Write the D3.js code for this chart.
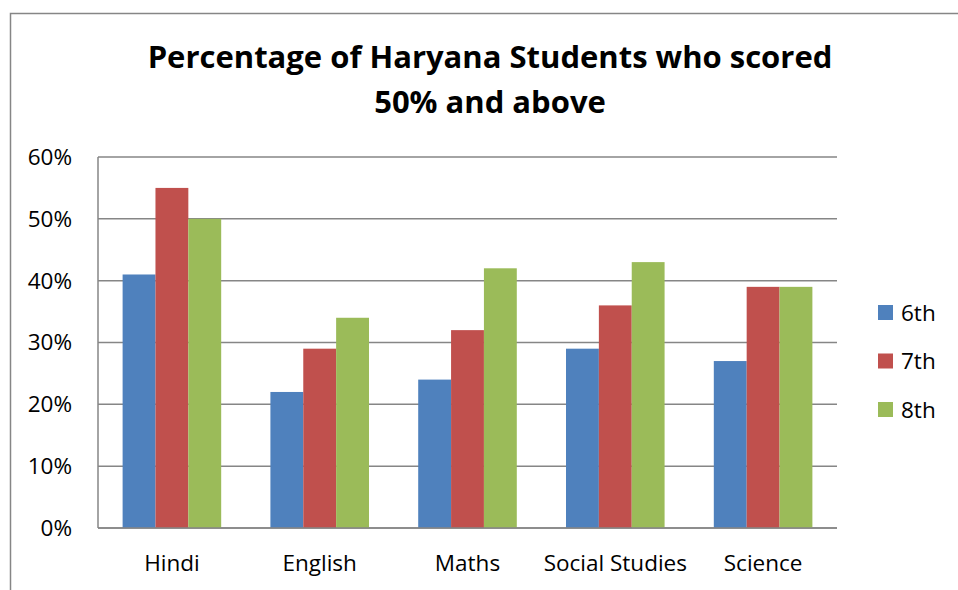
<!DOCTYPE html>
<html>
<head>
<meta charset="utf-8">
<script src="https://cdn.jsdelivr.net/npm/d3@7"></script>
<style>
  body { margin: 0; background: #fff; }
  text { font-family: "Open Sans", "Noto Sans", sans-serif; fill: #000; }
</style>
</head>
<body>
<div id="chart"></div>
<script>
var subjects = ["Hindi", "English", "Maths", "Social Studies", "Science"];
var classes = ["6th", "7th", "8th"];
var class6 = [41, 22, 24, 29, 27];
var class7 = [55, 29, 32, 36, 39];
var class8 = [50, 34, 42, 43, 39];
var yTicks = [0, 10, 20, 30, 40, 50, 60];
var colors = ["#4F81BD", "#C0504D", "#9BBB59"];

var svgWidth = 958;
var svgHeight = 590;

var margin = { top: 157, left: 98, right: 121, bottom: 62 };
var chartWidth = svgWidth - margin.left - margin.right;
var chartHeight = svgHeight - margin.top - margin.bottom;

var svg = d3.select("#chart")
    .append("svg")
    .attr("width", svgWidth)
    .attr("height", svgHeight);

// outer frame
svg.append("rect")
    .attr("x", 10.5).attr("y", 13.5)
    .attr("width", 960).attr("height", 600)
    .attr("fill", "none")
    .attr("stroke", "#868686")
    .attr("stroke-width", 1.5);

// title
var title = svg.append("text")
    .attr("text-anchor", "middle")
    .style("font-weight", "bold")
    .style("font-size", "31px");
title.append("tspan").attr("x", 490).attr("y", 68).text("Percentage of Haryana Students who scored");
title.append("tspan").attr("x", 490).attr("y", 113).text("50% and above");

var chart = svg.append("g")
    .attr("transform", `translate(${margin.left}, ${margin.top})`);

var data = subjects.map((s, i) => ({ subject: s, values: [class6[i], class7[i], class8[i]] }));

var x0 = d3.scaleBand()
    .domain(subjects)
    .range([0, chartWidth])
    .paddingInner(0.333)
    .paddingOuter(0.1665);

var x1 = d3.scaleBand()
    .domain(classes)
    .range([0, x0.bandwidth()]);

var y = d3.scaleLinear()
    .domain([0, 60])
    .range([chartHeight, 0]);

// gridlines
chart.selectAll(".grid")
    .data(yTicks)
    .enter()
    .append("line")
    .attr("x1", 0).attr("x2", chartWidth)
    .attr("y1", d => y(d)).attr("y2", d => y(d))
    .attr("stroke", "#868686")
    .attr("stroke-width", 1.5);

// left axis line
chart.append("line")
    .attr("x1", 0).attr("x2", 0)
    .attr("y1", 0).attr("y2", chartHeight)
    .attr("stroke", "#868686")
    .attr("stroke-width", 1.5);

// bars
var groups = chart.selectAll(".group")
    .data(data)
    .enter()
    .append("g")
    .attr("transform", d => `translate(${x0(d.subject)}, 0)`);

groups.selectAll("rect")
    .data(d => d.values.map((v, j) => ({ cls: classes[j], value: v, idx: j })))
    .enter()
    .append("rect")
    .attr("x", d => x1(d.cls))
    .attr("y", d => y(d.value))
    .attr("width", x1.bandwidth())
    .attr("height", d => chartHeight - y(d.value))
    .attr("fill", d => colors[d.idx]);

// redraw baseline over bars
chart.append("line")
    .attr("x1", 0).attr("x2", chartWidth)
    .attr("y1", chartHeight).attr("y2", chartHeight)
    .attr("stroke", "#868686")
    .attr("stroke-width", 1.5);

// y labels
chart.selectAll(".ylab")
    .data(yTicks)
    .enter()
    .append("text")
    .attr("x", -26)
    .attr("y", d => y(d))
    .attr("dy", "0.35em")
    .attr("text-anchor", "end")
    .style("font-size", "22.5px")
    .text(d => d + "%");

// x labels
chart.selectAll(".xlab")
    .data(subjects)
    .enter()
    .append("text")
    .attr("x", d => x0(d) + x0.bandwidth() / 2)
    .attr("y", chartHeight + 43)
    .attr("text-anchor", "middle")
    .style("font-size", "22.5px")
    .text(d => d);

// legend
var legend = svg.selectAll(".legend")
    .data(classes)
    .enter()
    .append("g")
    .attr("transform", (d, i) => `translate(878, ${305 + i * 48.5})`);

legend.append("rect")
    .attr("width", 15).attr("height", 15)
    .attr("fill", (d, i) => colors[i]);

legend.append("text")
    .attr("x", 23)
    .attr("y", 8)
    .attr("dy", "0.35em")
    .style("font-size", "22.5px")
    .text(d => d);
</script>
</body>
</html>
